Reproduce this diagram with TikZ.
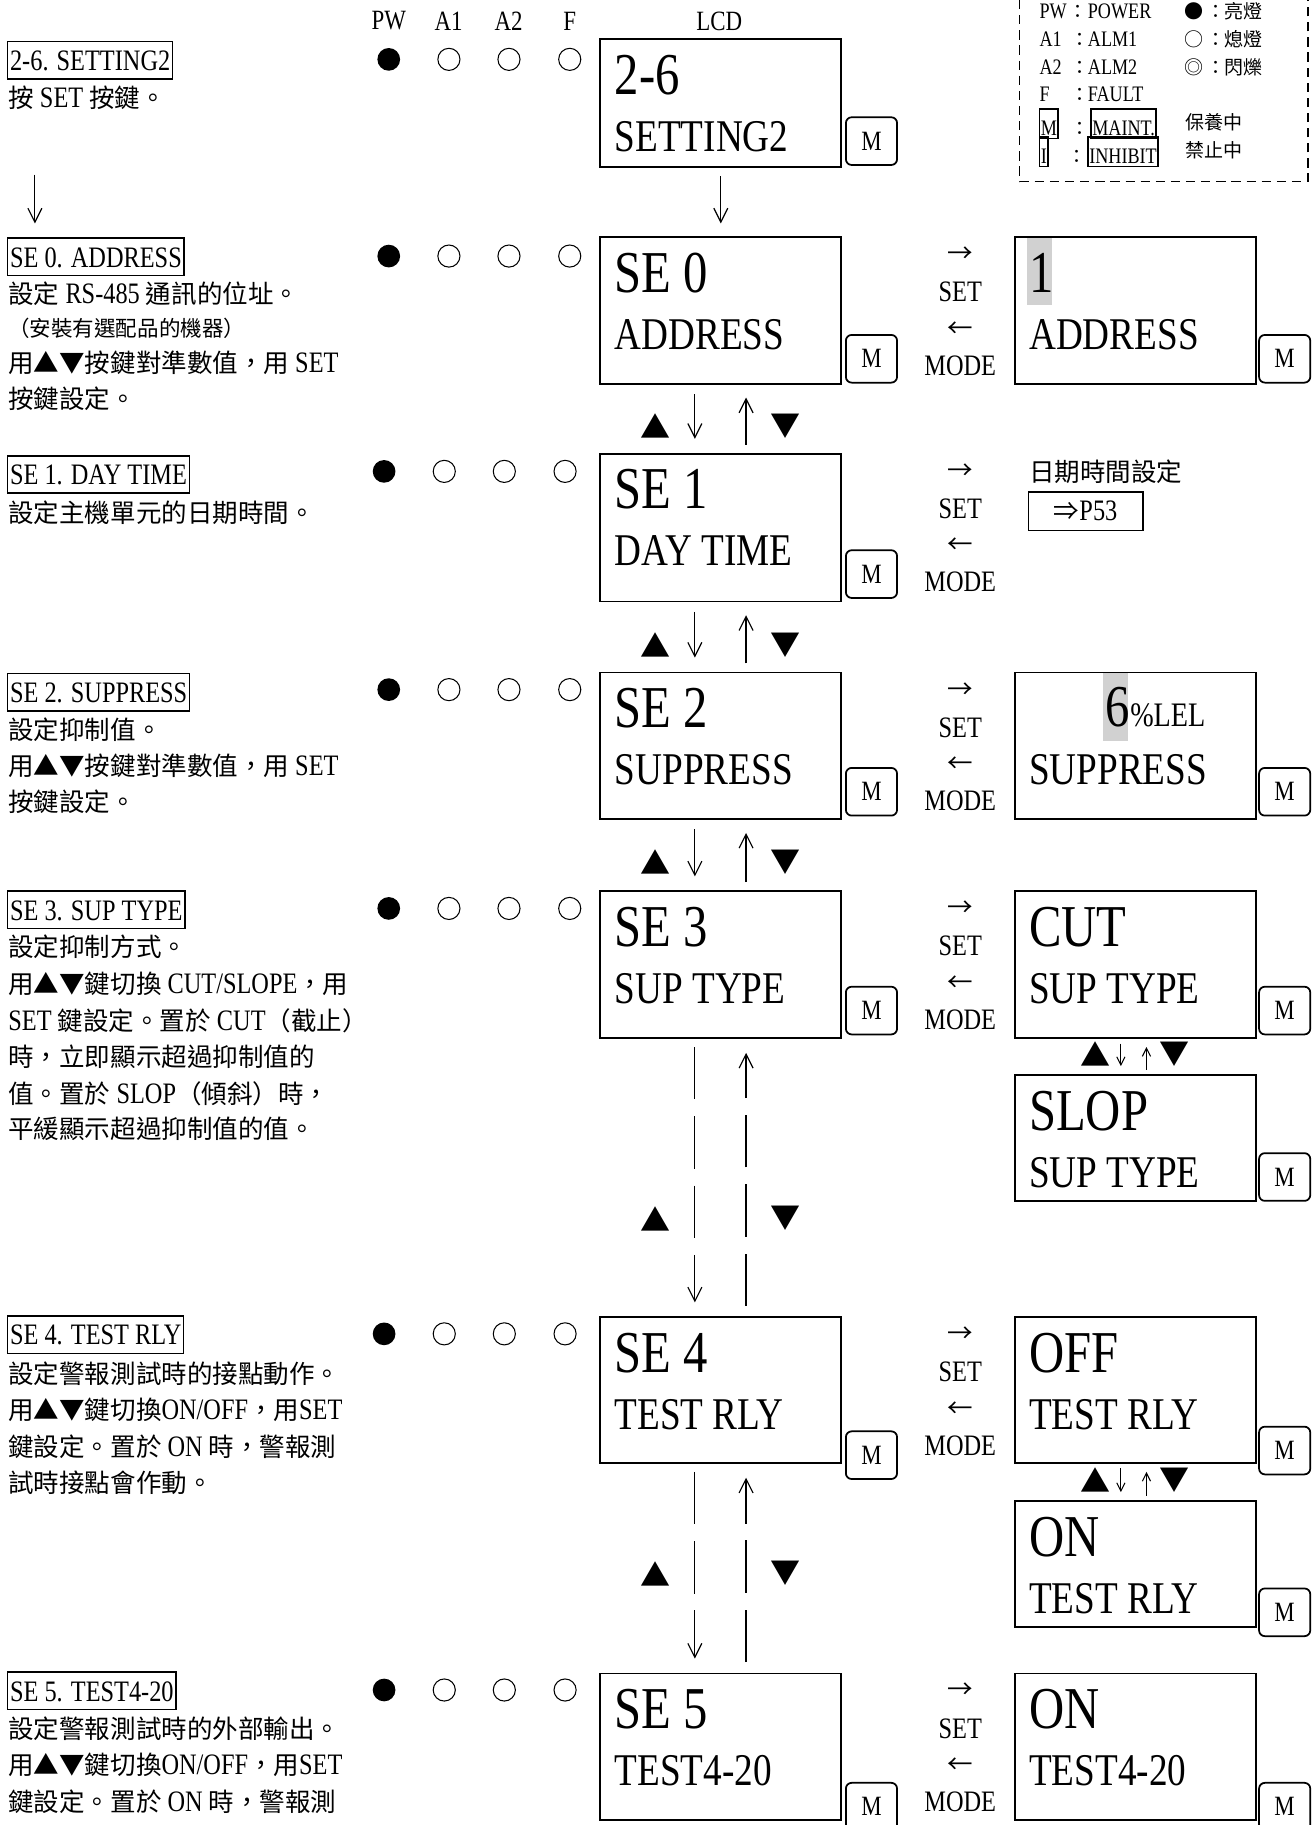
\documentclass[tikz,border=0pt]{standalone}
\usepackage{fontspec}
\setmainfont{Liberation Serif}[FakeStretch=0.82]
\newfontfamily\cjk{Noto Sans CJK TC}[Scale=0.86]
\usetikzlibrary{arrows.meta}
% automatic switch to the CJK font for CJK characters
\newcount\cjkcnt
\cjkcnt=0
\loop \XeTeXcharclass\cjkcnt=0 \advance\cjkcnt by 1 \ifnum\cjkcnt<"2E80 \repeat
\cjkcnt="2E80
\loop \XeTeXcharclass\cjkcnt=7 \advance\cjkcnt by 1 \ifnum\cjkcnt<"A000 \repeat
\cjkcnt="FF00
\loop \XeTeXcharclass\cjkcnt=7 \advance\cjkcnt by 1 \ifnum\cjkcnt<"FFF0 \repeat
\XeTeXcharclass"25B2=7 \XeTeXcharclass"25BC=7 \XeTeXcharclass"25CF=7
\XeTeXcharclass"25CB=7 \XeTeXcharclass"25CE=7 \XeTeXcharclass"21D2=7
\XeTeXcharclass"2190=7 \XeTeXcharclass"2192=7
\XeTeXinterchartoks 0 7 = {\begingroup\cjk}
\XeTeXinterchartoks 4095 7 = {\begingroup\cjk}
\XeTeXinterchartoks 7 0 = {\endgroup}
\XeTeXinterchartoks 7 4095 = {\endgroup}
\XeTeXinterchartokenstate=1
\newcommand\zzBig{\fontsize{51}{51}\selectfont}
\newcommand\zzMid{\fontsize{39}{39}\selectfont}
\newcommand\zzTxt{\fontsize{25.5}{31}\selectfont}
\newcommand\zzSm{\fontsize{21.5}{26}\selectfont}
\newcommand\zzHdr{\fontsize{24}{26}\selectfont}
\newcommand\zzLeg{\fontsize{19}{22}\selectfont}
\newcommand\zzM{\fontsize{24}{26}\selectfont}
\newcommand\zzTri{\fontsize{30}{30}\selectfont}
\newcommand\zzPct{\fontsize{29.5}{30}\selectfont}
\tikzset{
  lcd/.style={draw, line width=1.6pt, minimum width=207pt, anchor=north west, inner sep=0pt},
  big/.style={anchor=base west, inner sep=0pt, font=\zzBig},
  mid/.style={anchor=base west, inner sep=0pt, font=\zzMid},
  mbtn/.style={draw, line width=1.5pt, rounded corners=5pt, minimum width=44pt, minimum height=41pt, anchor=north west, inner sep=0pt, font=\zzM},
  sm/.style={inner sep=0pt, font=\zzTxt},
  hdr/.style={inner sep=0pt, font=\zzHdr},
  lbl/.style={draw, line width=1.3pt, inner xsep=2pt, inner ysep=7.3pt, text height=17.5pt, text depth=0pt, anchor=north west, font=\zzTxt},
  desc/.style={anchor=base west, inner sep=0pt, font=\zzTxt},
  ledon/.style={circle, fill=black, minimum size=19.5pt, inner sep=0pt},
  ledoff/.style={circle, draw, line width=0.9pt, minimum size=19pt, inner sep=0pt},
  tri/.style={inner sep=0pt, font=\zzTri},
  arr/.style={line width=1pt, -{Straight Barb[length=12pt,width=12pt]}},
  sarr/.style={line width=0.9pt, -{Straight Barb[length=7pt,width=7pt]}},
  dashconn/.style={dash pattern=on 45pt off 14.5pt},
  leg/.style={anchor=base west, inner sep=0pt, font=\zzLeg},
  legc/.style={anchor=base, inner sep=0pt, font=\zzLeg},
  lgbox/.style={draw, line width=1.2pt, inner xsep=1pt, inner ysep=0pt, text height=22.5pt, text depth=3pt, anchor=base west, font=\zzLeg},
  hl/.style={fill=black!18},
}
\newcommand\zzlcdunit[6]{%
  \node[lcd, minimum height=#4pt] (#1) at (#2,#3) {};
  \node[big] (#1t) at ([xshift=13pt,yshift=-48pt]#1.north west) {#5};
  \node[mid] (#1u) at ([xshift=13pt,yshift=-97pt]#1.north west) {#6};
}
\newcommand\zzsetmode[2]{%
  \node[sm] (#1a) at (825,#2+16) {→};
  \node[sm] (#1b) at (825,#2+48) {SET};
  \node[sm] (#1c) at (825,#2+80) {←};
  \node[sm] (#1d) at (825,#2+111) {MODE};
}
\newcommand\zzledrow[3]{%
  \node[ledon] (#1p) at (#2,#3) {};
  \node[ledoff] (#1a) at (#2+51.7,#3) {};
  \node[ledoff] (#1b) at (#2+103.3,#3) {};
  \node[ledoff] (#1f) at (#2+155.5,#3) {};
}
\newcommand\zzvsolid[2]{%
  \draw[arr] ([xshift=82pt,yshift=-8pt]#1.south west) -- ([xshift=82pt,yshift=12pt]#2.north west);
  \draw[arr] ([xshift=126pt,yshift=7pt]#2.north west) -- ([xshift=126pt,yshift=-11pt]#1.south west);
}
\newcommand\zzvdashed[2]{%
  \draw[arr, dashconn] ([xshift=82pt,yshift=-7pt]#1.south west) -- ([xshift=82pt,yshift=12pt]#2.north west);
  \draw[arr, dashconn] ([xshift=126pt,yshift=9pt]#2.north west) -- ([xshift=126pt,yshift=-12pt]#1.south west);
}
\newcommand\zzvsmall[2]{%
  \draw[sarr] ([xshift=92pt,yshift=-4pt]#1.south west) -- ([xshift=92pt,yshift=7pt]#2.north west);
  \draw[sarr] ([xshift=114pt,yshift=4pt]#2.north west) -- ([xshift=114pt,yshift=-7pt]#1.south west);
}
\begin{document}
\begin{tikzpicture}[x=1pt,y=-1pt]
\fill[white] (0,0) rectangle (1127,1568);
\useasboundingbox (0,0) rectangle (1127,1568);

% header
\node[hdr] (hPW) at (334,18) {PW};
\node[hdr] (hA1) at (385.5,18) {A1};
\node[hdr] (hA2) at (437,18) {A2};
\node[hdr] (hF) at (489.5,18) {F};
\node[hdr] (hLCD) at (618,18) {LCD};

% legend
\coordinate (lg1) at (876,0);
\coordinate (lg2) at (876,156);
\coordinate (lg3) at (1124,156);
\coordinate (lg4) at (1124,0);
\draw[line width=1.5pt, dash pattern=on 8pt off 5pt] (lg1) -- (lg2) -- (lg3) -- (lg4);
\node[leg] (lgPW) at (893,15.7) {PW};
\node[legc] (lgc1) at (926,15.7) {：};
\node[leg] (lgPWv) at (934.5,15.7) {POWER};
\node[leg] (lgA1) at (893,40) {A1};
\node[legc] (lgc2) at (928,40) {：};
\node[leg] (lgA1v) at (934.5,40) {ALM1};
\node[leg] (lgA2) at (893,64.4) {A2};
\node[legc] (lgc3) at (928,64.4) {：};
\node[leg] (lgA2v) at (934.5,64.4) {ALM2};
\node[leg] (lgF) at (893,87.3) {F};
\node[legc] (lgc4) at (928,87.3) {：};
\node[leg] (lgFv) at (934.5,87.3) {FAULT};
\node[lgbox] (lgM) at (892.7,116) {M};
\node[legc] (lgc5) at (928,116) {：};
\node[lgbox] (lgMv) at (936.9,116) {MAINT.};
\node[lgbox] (lgI) at (892.7,140.3) {I};
\node[legc] (lgc6) at (925,140.3) {：};
\node[lgbox] (lgIv) at (934.3,140.3) {INHIBIT};
\node[legc] (lgs1) at (1026,16) {●};
\node[legc] (lgs1c) at (1045,16) {：};
\node[leg] (lgs1t) at (1052,16) {亮燈};
\node[legc] (lgs2) at (1026,40) {○};
\node[legc] (lgs2c) at (1045,40) {：};
\node[leg] (lgs2t) at (1052,40) {熄燈};
\node[legc] (lgs3) at (1026,64.4) {◎};
\node[legc] (lgs3c) at (1045,64.4) {：};
\node[leg] (lgs3t) at (1052,64.4) {閃爍};
\node[leg] (lgMn) at (1018,111) {保養中};
\node[leg] (lgIn) at (1018,135) {禁止中};

% left descriptions
\node[lbl] (l0) at (6,35) {2-6. SETTING2};
\node[desc] (d0a) at (7,92) {按 SET 按鍵。};
\coordinate (la1) at (30,150);
\coordinate (la2) at (30,192);
\draw[arr] (la1) -- (la2);
\node[lbl] (l1) at (6,204) {SE 0. ADDRESS};
\node[desc] (d1a) at (7,261) {設定 RS-485 通訊的位址。};
\node[desc, font=\zzSm] (d1b) at (7,289) {（安裝有選配品的機器）};
\node[desc] (d1c) at (7,320) {用▲▼按鍵對準數值，用 SET};
\node[desc] (d1d) at (7,351) {按鍵設定。};
\node[lbl] (l2) at (6,391) {SE 1. DAY TIME};
\node[desc] (d2a) at (7,449) {設定主機單元的日期時間。};
\node[lbl] (l3) at (6,578) {SE 2. SUPPRESS};
\node[desc] (d3a) at (7,635) {設定抑制值。};
\node[desc] (d3b) at (7,666) {用▲▼按鍵對準數值，用 SET};
\node[desc] (d3c) at (7,697) {按鍵設定。};
\node[lbl] (l4) at (6,765) {SE 3. SUP TYPE};
\node[desc] (d4a) at (7,822) {設定抑制方式。};
\node[desc] (d4b) at (7,854) {用▲▼鍵切換 CUT/SLOPE，用};
\node[desc] (d4c) at (7,885) {SET 鍵設定。置於 CUT（截止）};
\node[desc] (d4d) at (7,916) {時，立即顯示超過抑制值的};
\node[desc] (d4e) at (7,948) {值。置於 SLOP（傾斜）時，};
\node[desc] (d4f) at (7,978) {平緩顯示超過抑制值的值。};
\node[lbl] (l5) at (6,1130) {SE 4. TEST RLY};
\node[desc] (d5a) at (7,1189) {設定警報測試時的接點動作。};
\node[desc] (d5b) at (7,1220) {用▲▼鍵切換ON/OFF，用SET};
\node[desc] (d5c) at (7,1251) {鍵設定。置於 ON 時，警報測};
\node[desc] (d5d) at (7,1282) {試時接點會作動。};
\node[lbl] (l6) at (6,1436) {SE 5. TEST4-20};
\node[desc] (d6a) at (7,1494) {設定警報測試時的外部輸出。};
\node[desc] (d6b) at (7,1525) {用▲▼鍵切換ON/OFF，用SET};
\node[desc] (d6c) at (7,1556) {鍵設定。置於 ON 時，警報測};

% LEDs
\zzledrow{e0}{334}{51}
\zzledrow{e1}{334}{220}
\zzledrow{e2}{330}{405}
\zzledrow{e3}{334}{592.5}
\zzledrow{e4}{334}{780.5}
\zzledrow{e5}{330}{1146}
\zzledrow{e6}{330}{1452}

% main LCD column
\zzlcdunit{b0}{515}{33}{110}{2-6}{SETTING2}
\zzlcdunit{b1}{515}{203}{126}{SE 0}{ADDRESS}
\zzlcdunit{b2}{515}{389}{127}{SE 1}{DAY TIME}
\zzlcdunit{b3}{515}{577}{126}{SE 2}{SUPPRESS}
\zzlcdunit{b4}{515}{765}{126}{SE 3}{SUP TYPE}
\zzlcdunit{b5}{515}{1131}{125}{SE 4}{TEST RLY}
\zzlcdunit{b6}{515}{1437}{126}{SE 5}{TEST4-20}

% M buttons
\node[mbtn] (m0) at (726,100) {M};
\node[mbtn] (m1) at (726,287) {M};
\node[mbtn] (m2) at (726,472) {M};
\node[mbtn] (m3) at (726,659) {M};
\node[mbtn] (m4) at (726,847) {M};
\node[mbtn] (m5) at (726,1229) {M};
\node[mbtn] (m6) at (726,1531) {M};
\node[mbtn] (mr1) at (1081,287) {M};
\node[mbtn] (mr3) at (1081,659) {M};
\node[mbtn] (mr4) at (1081,847) {M};
\node[mbtn] (mr4b) at (1081,990) {M};
\node[mbtn] (mr5) at (1081,1225) {M};
\node[mbtn] (mr5b) at (1081,1364) {M};
\node[mbtn] (mr6) at (1081,1531) {M};

% SET / MODE labels
\zzsetmode{s1}{203}
\zzsetmode{s2}{389}
\zzsetmode{s3}{577}
\zzsetmode{s4}{765}
\zzsetmode{s5}{1131}
\zzsetmode{s6}{1437}

% right column
\fill[hl] (882,204) rectangle (904,262);
\zzlcdunit{r1}{871}{203}{126}{1}{ADDRESS}
\node[anchor=base west, inner sep=0pt, font=\zzTxt] (dtt) at (884,414) {日期時間設定};
\node[draw, line width=1.5pt, minimum width=98pt, minimum height=33pt, anchor=north west, inner sep=0pt, font=\zzTxt] (p53) at (883,422) {⇒P53};
\fill[hl] (948,578) rectangle (969,637);
\node[lcd, minimum height=126pt] (r3) at (871,577) {};
\node[big] (r3t) at (950,624) {6{\zzPct\%LEL}};
\node[mid] (r3u) at ([xshift=13pt,yshift=-97pt]r3.north west) {SUPPRESS};
\zzlcdunit{r4}{871}{765}{126}{CUT}{SUP TYPE}
\zzlcdunit{r4b}{871}{923}{108}{SLOP}{SUP TYPE}
\zzlcdunit{r5}{871}{1131}{125}{OFF}{TEST RLY}
\zzlcdunit{r5b}{871}{1289}{108}{ON}{TEST RLY}
\zzlcdunit{r6}{871}{1437}{126}{ON}{TEST4-20}

% connectors main column
\draw[arr] ([yshift=-7pt]b0.south) -- ([yshift=11pt]b1.north);
\zzvsolid{b1}{b2}
\zzvsolid{b2}{b3}
\zzvsolid{b3}{b4}
\zzvdashed{b4}{b5}
\zzvdashed{b5}{b6}
\node[tri] (t1u) at (563,366) {▲};
\node[tri] (t1d) at (675,366) {▼};
\node[tri] (t2u) at (563,554) {▲};
\node[tri] (t2d) at (675,554) {▼};
\node[tri] (t3u) at (563,741) {▲};
\node[tri] (t3d) at (675,741) {▼};
\node[tri] (t4u) at (563,1047) {▲};
\node[tri] (t4d) at (675,1047) {▼};
\node[tri] (t5u) at (563,1352) {▲};
\node[tri] (t5d) at (675,1352) {▼};

% connectors right column
\zzvsmall{r4}{r4b}
\zzvsmall{r5}{r5b}
\node[tri] (t6u) at (941,906) {▲};
\node[tri] (t6d) at (1009,906) {▼};
\node[tri] (t7u) at (941,1272) {▲};
\node[tri] (t7d) at (1009,1272) {▼};
\end{tikzpicture}
\end{document}
